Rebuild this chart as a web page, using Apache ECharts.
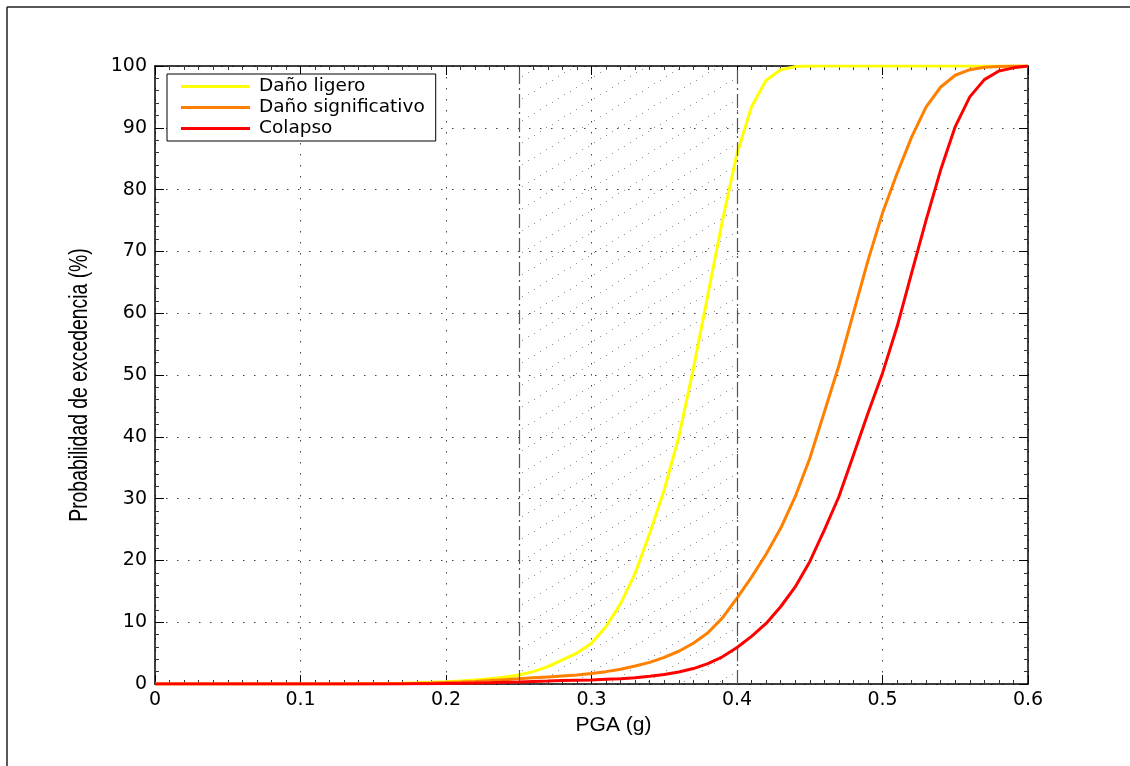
<!DOCTYPE html>
<html>
<head>
<meta charset="utf-8">
<script src="https://cdn.jsdelivr.net/npm/echarts@6/dist/echarts.min.js"></script>
<style>
  html, body { margin: 0; padding: 0; background: #fff; }
  #chart { width: 1130px; height: 766px; }
</style>
</head>
<body>
<div id="chart"></div>
<script>
// PGA values (g) at which the fragility curves are sampled
const pga = [
  0.00, 0.01, 0.02, 0.03, 0.04, 0.05, 0.06, 0.07, 0.08, 0.09,
  0.10, 0.11, 0.12, 0.13, 0.14, 0.15, 0.16, 0.17, 0.18, 0.19,
  0.20, 0.21, 0.22, 0.23, 0.24, 0.25, 0.26, 0.27, 0.28, 0.29,
  0.30, 0.31, 0.32, 0.33, 0.34, 0.35, 0.36, 0.37, 0.38, 0.39,
  0.40, 0.41, 0.42, 0.43, 0.44, 0.45, 0.46, 0.47, 0.48, 0.49,
  0.50, 0.51, 0.52, 0.53, 0.54, 0.55, 0.56, 0.57, 0.58, 0.59,
  0.60
];

// Probability of exceedance (%) for each damage state
const danoLigero = [
  0, 0, 0, 0, 0, 0, 0, 0, 0, 0,
  0.01, 0.01, 0.02, 0.03, 0.05, 0.07, 0.10, 0.14, 0.20, 0.28,
  0.38, 0.50, 0.65, 0.85, 1.1, 1.45, 2.0, 2.8, 3.9, 5.0,
  6.6, 9.3, 13.0, 17.9, 24.4, 31.4, 40.0, 51.0, 63.0, 75.0,
  85.8, 93.4, 97.7, 99.4, 99.9, 100, 100, 100, 100, 100,
  100, 100, 100, 100, 100, 100, 100, 100, 100, 100,
  100
];
const danoSignificativo = [
  0, 0, 0, 0, 0, 0, 0, 0, 0, 0,
  0, 0, 0, 0.01, 0.02, 0.03, 0.05, 0.08, 0.12, 0.17,
  0.24, 0.32, 0.42, 0.55, 0.70, 0.85, 1.0, 1.15, 1.3, 1.45,
  1.7, 2.0, 2.4, 2.9, 3.5, 4.3, 5.3, 6.6, 8.3, 10.7,
  13.9, 17.3, 21.0, 25.2, 30.3, 36.5, 44.0, 51.5, 60.0, 68.5,
  76.2, 82.6, 88.5, 93.4, 96.6, 98.5, 99.4, 99.8, 99.9, 100,
  100
];
const colapso = [
  0, 0, 0, 0, 0, 0, 0, 0, 0, 0,
  0, 0, 0, 0, 0, 0.01, 0.01, 0.02, 0.04, 0.06,
  0.09, 0.12, 0.16, 0.21, 0.27, 0.33, 0.40, 0.47, 0.55, 0.60,
  0.65, 0.75, 0.85, 1.0, 1.25, 1.55, 1.95, 2.5, 3.3, 4.4,
  5.9, 7.7, 9.8, 12.5, 15.7, 19.8, 24.9, 30.3, 37.0, 43.8,
  50.3, 57.8, 66.5, 75.1, 83.2, 90.2, 95.0, 97.8, 99.2, 99.7,
  100
];

const seriesNames = ['Daño ligero', 'Daño significativo', 'Colapso'];
const seriesColors = ['#ffff00', '#ff8000', '#ff0000'];

// Axis tick labels and titles
const xTickLabels = ['0', '0.1', '0.2', '0.3', '0.4', '0.5', '0.6'];
const yTickLabels = ['0', '10', '20', '30', '40', '50', '60', '70', '80', '90', '100'];
const xTitle = 'PGA (g)';
const yTitle = 'Probabilidad de excedencia (%)';

// Shaded PGA band bounded by dash-dot lines
const bandLimits = [0.25, 0.40];

// Dotted diagonal hatch used to fill the band
function makeHatch() {
  const c = document.createElement('canvas');
  c.width = 36; c.height = 22;
  const ctx = c.getContext('2d');
  ctx.fillStyle = 'rgba(110,110,110,0.75)';
  for (let t = 0; t < 1; t += 1 / 6) {
    const x = t * c.width, y = c.height - t * c.height;
    ctx.fillRect(Math.round(x), Math.round(y) - 1, 1, 1);
  }
  return c;
}

const curves = [danoLigero, danoSignificativo, colapso];
const series = curves.map((vals, k) => ({
  name: seriesNames[k],
  type: 'line',
  data: pga.map((x, i) => [x, vals[i]]),
  showSymbol: false,
  smooth: false,
  z: 3 + k,
  lineStyle: { color: seriesColors[k], width: 3 },
  itemStyle: { color: seriesColors[k] }
}));

series[0].markArea = {
  silent: true,
  itemStyle: { color: { image: makeHatch(), repeat: 'repeat' } },
  data: [[{ xAxis: bandLimits[0] }, { xAxis: bandLimits[1] }]]
};
series[0].markLine = {
  silent: true,
  symbol: 'none',
  label: { show: false },
  lineStyle: { color: '#555', width: 1.2, type: [14, 4, 2, 4] },
  data: bandLimits.map(v => ({ xAxis: v }))
};

const tickFont = { fontFamily: 'DejaVu Sans', fontSize: 19, color: '#000' };

const chart = echarts.init(document.getElementById('chart'), null, { renderer: 'canvas' });
chart.setOption({
  animation: false,
  backgroundColor: '#fff',
  grid: { left: 155, right: 102, top: 66, bottom: 82 },
  legend: {
    orient: 'vertical',
    left: 167,
    top: 74,
    backgroundColor: '#fff',
    borderColor: '#000',
    borderWidth: 1,
    borderRadius: 0,
    padding: [3, 11, 3, 14],
    itemWidth: 69,
    itemHeight: 3,
    itemGap: 2,
    icon: 'rect',
    textStyle: { fontFamily: 'DejaVu Sans', fontSize: 18.5, color: '#000', padding: [0, 0, 0, 4] },
    data: seriesNames
  },
  xAxis: [{
    type: 'value',
    min: 0, max: 0.6, interval: 0.1,
    name: xTitle,
    nameLocation: 'middle',
    nameGap: 19,
    nameTextStyle: { fontFamily: 'Liberation Sans', fontSize: 21, color: '#000', padding: [0, 0, 0, 44] },
    axisLine: { onZero: false, lineStyle: { color: '#000', width: 1.5 } },
    axisTick: { inside: true, length: 9, lineStyle: { color: '#000' } },
    minorTick: { show: true, splitNumber: 10, length: 4, lineStyle: { color: '#333' } },
    axisLabel: { ...tickFont, margin: 7, formatter: (v, i) => xTickLabels[i] },
    splitLine: { show: true, lineStyle: { color: '#444', width: 1, type: [1.5, 9.5] } }
  }, {
    type: 'value',
    position: 'top',
    min: 0, max: 0.6, interval: 0.1,
    axisLine: { onZero: false, lineStyle: { color: '#000', width: 1.5 } },
    axisTick: { inside: true, length: 9, lineStyle: { color: '#000' } },
    minorTick: { show: true, splitNumber: 10, length: 4, lineStyle: { color: '#333' } },
    axisLabel: { show: false },
    splitLine: { show: false }
  }],
  yAxis: [{
    type: 'value',
    min: 0, max: 100, interval: 10,
    axisLine: { show: true, onZero: false, lineStyle: { color: '#000', width: 1.5 } },
    axisTick: { show: true, inside: true, length: 9, lineStyle: { color: '#000' } },
    minorTick: { show: true, splitNumber: 5, length: 4, lineStyle: { color: '#333' } },
    axisLabel: { ...tickFont, margin: 8, formatter: (v, i) => yTickLabels[i] },
    splitLine: { show: true, lineStyle: { color: '#444', width: 1, type: [1.5, 9.5] } }
  }, {
    type: 'value',
    position: 'right',
    min: 0, max: 100, interval: 10,
    axisLine: { show: true, onZero: false, lineStyle: { color: '#000', width: 1.5 } },
    axisTick: { show: true, inside: true, length: 9, lineStyle: { color: '#000' } },
    minorTick: { show: true, splitNumber: 5, length: 4, lineStyle: { color: '#333' } },
    axisLabel: { show: false },
    splitLine: { show: false }
  }],
  graphic: [
    { type: 'line', silent: true, shape: { x1: 7, y1: 7, x2: 7, y2: 766 }, style: { stroke: '#222', lineWidth: 1.5 } },
    { type: 'line', silent: true, shape: { x1: 7, y1: 7, x2: 1130, y2: 7 }, style: { stroke: '#222', lineWidth: 1.5 } },
    // condensed vertical axis title
    {
      type: 'text', silent: true,
      x: 80, y: 385, rotation: Math.PI / 2, scaleX: 0.775, scaleY: 1,
      style: {
        text: yTitle, fill: '#000',
        font: '25px "Liberation Sans"',
        align: 'center', verticalAlign: 'middle'
      }
    }
  ],
  series: series
});
</script>
</body>
</html>
